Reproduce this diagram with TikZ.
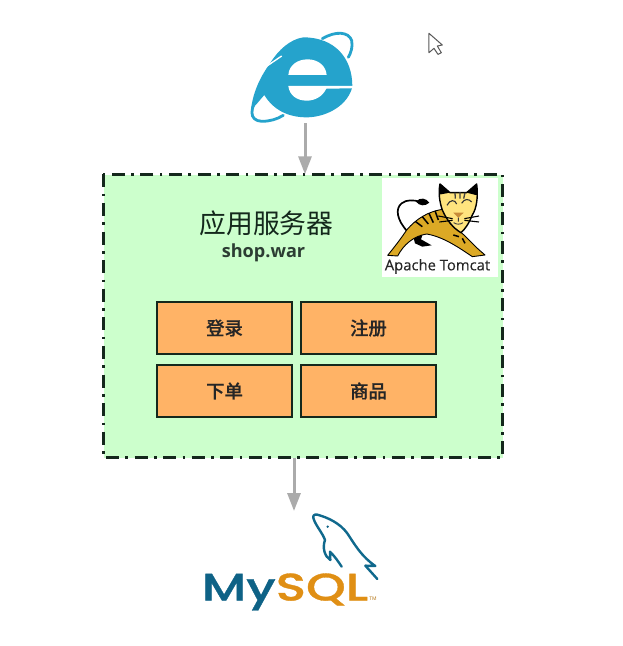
\documentclass[tikz,border=0pt]{standalone}
\usepackage{fontspec}
\setmainfont{Open Sans}
\newfontfamily\tomc[FakeBold=0.3]{Open Sans}
\newfontfamily\cjk{Noto Sans CJK SC}
\newfontfamily\cjkb[FakeBold=0.5]{Noto Sans CJK SC Medium}
\newfontfamily\mys[FakeBold=0.8]{Poppins Medium}
\usetikzlibrary{arrows.meta}
\definecolor{iebl}{HTML}{25A3CC}
\definecolor{grn}{HTML}{CCFFCC}
\definecolor{org}{HTML}{FFB366}
\definecolor{dk}{HTML}{14281C}
\definecolor{arr}{HTML}{ABABAB}
\definecolor{cgold}{HTML}{DCA925}
\definecolor{chead}{HTML}{FFE47E}
\definecolor{mblue}{HTML}{0E6286}
\definecolor{morg}{HTML}{E08F14}
\tikzset{
  fnbox/.style={draw=dk,line width=2pt,fill=org,minimum width=135pt,minimum height=52pt,inner sep=0pt,font=\cjkb\fontsize{18.4}{20}\selectfont,text=black!85},
  conn/.style={draw=arr,line width=3pt,-{Triangle[length=18pt,width=13pt,fill=arr]}},
  ghost/.style={inner sep=0pt,minimum width=105pt,minimum height=86pt},
}
\begin{document}
\begin{tikzpicture}[x=1pt,y=-1pt]
\useasboundingbox (0,0) rectangle (622,646);
\fill[white] (0,0) rectangle (622,646);

% server
\node[draw=none,fill=grn,minimum width=399pt,minimum height=283pt,inner sep=0pt] (server) at (303,316) {};
\fill[white] (382,178) rectangle (498,277);
\draw[draw=dk,line width=2.8pt,dash pattern=on 13pt off 6.5pt on 2.6pt off 6.5pt] (server.north west) rectangle (server.south east);
\node[font=\cjk\fontsize{26.8}{30}\selectfont,text=dk] (title) at (266.5,223) {应用服务器};
\node[font=\bfseries\fontsize{18.1}{20}\selectfont,text=dk!90] (war) at (263.5,253) {shop.war};

\node[fnbox] (login) at (224.5,328) {登录};
\node[fnbox] (reg) at (368.5,328) {注册};
\node[fnbox] (order) at (224.5,391) {下单};
\node[fnbox] (goods) at (368.5,391) {商品};

% IE logo
\node[ghost] (ie) at (305,80) {};
\begin{scope}[shift={(245,30)},x=0.3333pt,y=-0.3333pt]
  \fill[iebl] (175,22) .. controls (270,22) and (322,85) .. (322,168)
    -- (320,178) .. controls (300,235) and (235,262) .. (185,262)
    .. controls (130,262) and (85,240) .. (58,195)
    .. controls (40,215) and (30,230) .. (18,238)
    .. controls (25,180) and (50,135) .. (75,100)
    .. controls (100,60) and (135,28) .. (175,22) -- cycle;
  \draw[white,line width=1.4pt] (60,112) -- (110,78);
  \fill[white] (130,135) .. controls (132,105) and (158,88) .. (188,88)
    .. controls (220,88) and (243,108) .. (245,135) -- cycle;
  \fill[white] (130,168) -- (324,168) -- (324,175) -- (244,176)
    .. controls (232,200) and (210,212) .. (185,212)
    .. controls (155,212) and (133,195) .. (130,168) -- cycle;
  \draw[iebl,line width=2.8pt,line cap=round] (232,26) .. controls (272,2) and (312,5) .. (320,32) .. controls (324,50) and (318,68) .. (310,82);
  \draw[iebl,line width=2.8pt,line cap=round] (50,188) .. controls (10,235) and (12,272) .. (50,274) .. controls (75,274) and (95,268) .. (115,256);
\end{scope}

% Tomcat logo
\begin{scope}[shift={(385,180)},x=0.3333pt,y=-0.3333pt]
  \draw[black,line width=1.7pt] (68,155) .. controls (35,120) and (30,85) .. (50,70) .. controls (65,58) and (85,60) .. (105,65);
  \fill[black] (93,65) .. controls (105,50) and (125,55) .. (133,68) .. controls (120,80) and (103,78) .. (93,65) -- cycle;
  \fill[black] (85,170) -- (118,148) -- (108,178) -- (140,196) -- (112,200) -- (90,190) -- cycle;
  \fill[cgold,draw=black,line width=.9pt,line join=round] (172,88)
    .. controls (130,95) and (95,115) .. (65,150)
    .. controls (45,180) and (25,205) .. (8,226)
    -- (38,228) .. controls (55,195) and (85,168) .. (125,162)
    .. controls (175,170) and (225,205) .. (262,230)
    -- (300,225) -- (285,212) .. controls (265,195) and (245,170) .. (225,155)
    -- (195,130) -- cycle;
  \foreach \a/\b/\c/\d in {150/92/160/120, 132/100/145/128, 112/110/130/132, 92/125/112/140, 205/165/222/170, 232/175/240/190}{
    \draw[black,line width=1.5pt] (\a,\b) -- (\c,\d);
  }
  \fill[chead,draw=black,line width=1.4pt,line join=round] (165,12) -- (195,38) -- (245,38) -- (275,12)
    .. controls (280,50) and (275,85) .. (262,105)
    .. controls (252,130) and (240,148) .. (228,158)
    .. controls (205,145) and (185,120) .. (172,90)
    .. controls (163,65) and (160,35) .. (165,12) -- cycle;
  \fill[black] (165,12) -- (195,38) -- (162,44) -- cycle;
  \fill[black] (275,12) -- (245,38) -- (276,46) -- cycle;
  \draw[black!75,line width=1.3pt] (210,38)--(211,56) (225,36)--(225,56) (240,38)--(236,56);
  \draw[black!80,line width=1.1pt] (186,76) .. controls (195,58) and (210,58) .. (215,72) (230,70) .. controls (238,55) and (252,56) .. (260,66);
  \fill[brown!70!cgold] (205,98) -- (236,98) -- (220,113) -- cycle;
  \draw[black!75,line width=.9pt] (220,113)--(220,125) (206,128) .. controls (214,134) and (226,134) .. (234,128);
  \draw[black,line width=1.1pt] (160,108)--(203,116) (163,126)--(203,121) (238,116)--(282,108) (238,121)--(282,126);
\end{scope}
\node[font=\tomc\fontsize{14.8}{16}\selectfont,text=black!85,inner sep=0pt] (tomcat) at (437.5,266.5) {Apache Tomcat};

% cursor
\begin{scope}[shift={(230,20)},x=0.3333pt,y=-0.3333pt]
  \draw[black!65,line width=1pt,fill=white,line join=round] (597,40) -- (597,98) -- (612,85) -- (624,103) -- (634,98) -- (622,78) -- (637,75) -- cycle;
\end{scope}

% MySQL logo
\node[inner sep=0pt,anchor=base,font=\mys\fontsize{38.5}{44}\selectfont] (mysql) at (285,600.5) {\scalebox{1.31}[1]{\textcolor{mblue}{My}\textcolor{morg}{SQL}}};
\node[font=\fontsize{5}{5}\selectfont,text=morg!80!black,inner sep=0pt] (tm) at (373,598.5) {TM};
\begin{scope}[shift={(300,505)},x=0.3333pt,y=-0.3333pt]
  \draw[mblue!90!iebl,line width=2.4pt,line join=round,line cap=round]
    (125,185) .. controls (115,170) and (105,155) .. (90,140)
    -- (91,165)
    .. controls (75,155) and (66,130) .. (75,105)
    .. controls (68,85) and (50,65) .. (42,45)
    .. controls (36,32) and (42,27) .. (52,29)
    .. controls (85,38) and (120,55) .. (142,85)
    .. controls (165,120) and (185,155) .. (226,183)
    -- (196,182) -- (205,192) -- (232,222);
  \fill[mblue] (83,65) circle (4);
\end{scope}

% connectors
\coordinate (dbtop) at (294,511);
\draw[conn] (ie.south) -- (ie.south |- server.north);
\draw[conn] (dbtop |- server.south) -- (dbtop);
\end{tikzpicture}
\end{document}
